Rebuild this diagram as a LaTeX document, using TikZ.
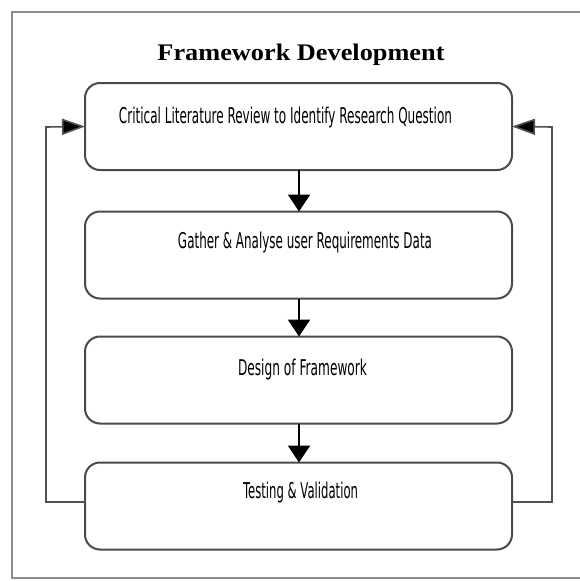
\documentclass[tikz,border=0pt]{standalone}
\usepackage{graphicx}
\usepackage{fontspec}
\setmainfont{Liberation Serif}
\newfontfamily\cfont{DejaVu Sans}
\usetikzlibrary{arrows.meta}
\newcommand{\ctext}[2]{\resizebox{#1}{16.5pt}{\cfont #2}}
\definecolor{boxgray}{HTML}{4A4A4A}
\definecolor{framegray}{HTML}{8C8C8C}
\definecolor{loopgray}{HTML}{505050}
\tikzset{
  stagebox/.style={draw=boxgray, line width=2pt, rounded corners=15pt,
    minimum width=427pt, minimum height=87pt, inner sep=0pt, outer sep=0pt},
  stagetext/.style={anchor=base, inner sep=0pt, text=black},
  downarrow/.style={draw=black, line width=2.6pt,
    -{Triangle[length=17pt,width=22pt]}},
  looparrow/.style={draw=loopgray, line width=1.6pt,
    -{Triangle[length=23pt,width=16pt,fill=black]}},
  frameline/.style={draw=framegray, line width=1.5pt}
}
\begin{document}
\begin{tikzpicture}[x=1pt,y=-1pt]
\useasboundingbox (0,0) rectangle (579,581);
\fill[white] (0,0) rectangle (579,581);
\draw[frameline] (585,12) -- (12,12) -- (12,578) -- (585,578);

\node[stagetext] (title) at (301,60) {\resizebox{287pt}{16.5pt}{\bfseries Framework Development}};

\node[stagebox] (b1) at (298.5,126.5) {};
\node[stagebox] (b2) at (298.5,255) {};
\node[stagebox] (b3) at (298.5,380) {};
\node[stagebox] (b4) at (298.5,506) {};

\node[stagetext] (t1) at (285.5,123) {\ctext{333pt}{Critical Literature Review to Identify Research Question}};
\node[stagetext] (t2) at (305,248) {\ctext{254pt}{Gather \& Analyse user Requirements Data}};
\node[stagetext] (t3) at (302.5,375) {\ctext{129pt}{Design of Framework}};
\node[stagetext] (t4) at (300.5,498) {\ctext{115pt}{Testing \& Validation}};

\draw[downarrow] ([xshift=0.5pt]b1.south) -- ([xshift=0.5pt]b2.north);
\draw[downarrow] ([xshift=0.5pt]b2.south) -- ([xshift=0.5pt]b3.north);
\draw[downarrow] ([xshift=0.5pt]b3.south) -- ([xshift=0.5pt]b4.north);

\coordinate (lb) at (46,502);
\coordinate (lt) at (46,127);
\coordinate (rb) at (552,502);
\coordinate (rt) at (552,127);
\draw[looparrow] ([yshift=4pt]b4.west) -- (lb) -- (lt) -- (b1.west);
\draw[looparrow] ([yshift=4pt]b4.east) -- (rb) -- (rt) -- (b1.east);
\end{tikzpicture}
\end{document}
